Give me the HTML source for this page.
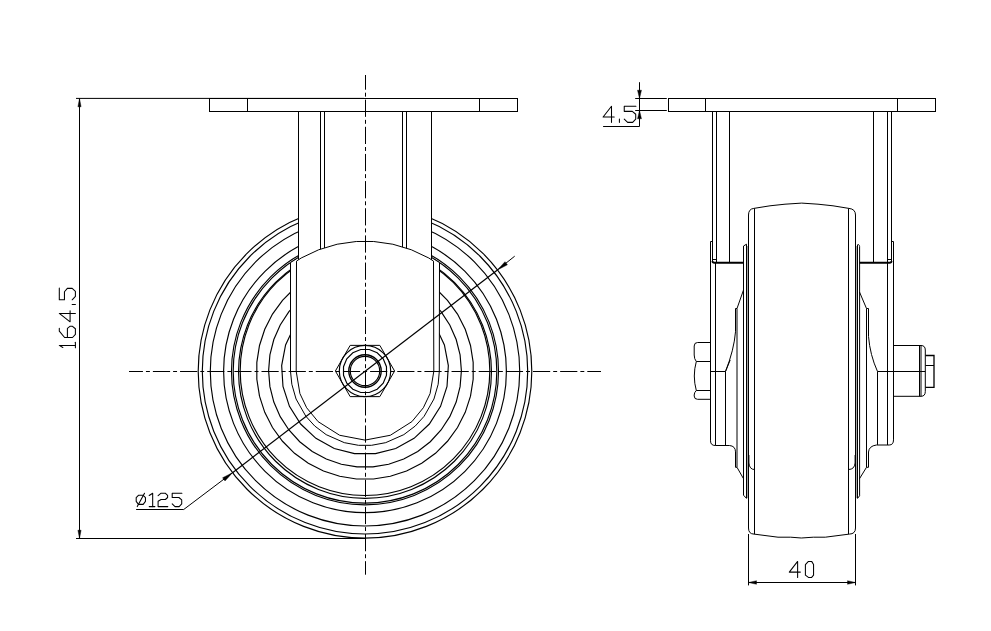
<!DOCTYPE html>
<html><head><meta charset="utf-8"><style>html,body{margin:0;padding:0;background:#fff;overflow:hidden}svg{display:block}</style></head>
<body>
<svg width="991" height="631" viewBox="0 0 991 631">
<style>svg *{fill:none;stroke:#000;stroke-width:1}svg .w{fill:#fff}svg .ar{fill:#000;stroke-width:0.4}svg .t{stroke-width:1.05;stroke-linejoin:round;stroke-linecap:round}svg .cl{stroke-dasharray:17.2 3 3.95 3}svg circle,svg .c{stroke-width:1.15}</style>
<rect x="0" y="0" width="991" height="631" style="fill:#fff;stroke:none"/>
<circle cx="365.00" cy="371.30" r="166.80" />
<circle cx="365.00" cy="371.30" r="162.70" />
<circle cx="365.00" cy="371.30" r="154.70" />
<circle cx="365.00" cy="371.30" r="141.40" />
<circle cx="365.00" cy="371.30" r="133.50" />
<circle cx="365.00" cy="371.30" r="131.80" />
<circle cx="365.00" cy="371.85" r="126.45" />
<circle cx="365.00" cy="370.70" r="124.80" />
<polygon points="356.49,478.97 339.67,476.30 323.48,471.04 308.31,463.31 294.53,453.30 282.50,441.27 272.49,427.49 264.76,412.32 259.50,396.13 256.83,379.31 256.83,362.29 259.50,345.47 264.76,329.28 272.49,314.11 282.50,300.33 294.53,288.30 308.31,278.29 323.48,270.56 339.67,265.30 356.49,262.63 373.51,262.63 390.33,265.30 406.52,270.56 421.69,278.29 435.47,288.30 447.50,300.33 457.51,314.11 465.24,329.28 470.50,345.47 473.17,362.29 473.17,379.31 470.50,396.13 465.24,412.32 457.51,427.49 447.50,441.27 435.47,453.30 421.69,463.31 406.52,471.04 390.33,476.30 373.51,478.97" class="c"/>
<polygon points="357.04,466.87 341.34,464.25 326.28,459.08 312.27,451.50 299.71,441.72 288.93,430.01 280.22,416.68 273.82,402.10 269.91,386.67 268.60,370.80 269.91,354.93 273.82,339.50 280.22,324.92 288.93,311.59 299.71,299.88 312.27,290.10 326.28,282.52 341.34,277.35 357.04,274.73 372.96,274.73 388.66,277.35 403.72,282.52 417.73,290.10 430.29,299.88 441.07,311.59 449.78,324.92 456.18,339.50 460.09,354.93 461.40,370.80 460.09,386.67 456.18,402.10 449.78,416.68 441.07,430.01 430.29,441.72 417.73,451.50 403.72,459.08 388.66,464.25 372.96,466.87" class="c"/>
<polygon points="354.53,453.64 334.26,448.44 315.92,438.35 300.66,424.02 289.45,406.35 282.98,386.45 281.66,365.56 285.59,345.00 294.50,326.06 307.84,309.93 324.77,297.63 344.23,289.92 365.00,287.30 385.77,289.92 405.23,297.63 422.16,309.93 435.50,326.06 444.41,345.00 448.34,365.56 447.02,386.45 440.55,406.35 429.34,424.02 414.08,438.35 395.74,448.44 375.47,453.64" class="c"/>
<path d="M290.50,262.58 L290.50,371.30 L291.84,384.27 L296.06,399.01 L305.90,416.32 L314.71,425.99 L326.18,434.65 L344.27,442.65 L358.52,445.32 L371.48,445.32 L385.73,442.65 L403.82,434.65 L415.29,425.99 L424.10,416.32 L433.94,399.01 L438.16,384.27 L439.30,371.30 L439.50,262.58 A131.8,131.8 0 0 0 290.50,262.58 Z" class="w"/>
<polygon points="298.50,111.50 298.50,259.80 301.18,258.00 318.66,249.77 337.17,244.22 356.30,241.49 373.70,241.49 392.83,244.22 411.34,249.77 428.82,258.00 431.50,259.80 431.50,111.50" class="w"/>
<polyline points="296.50,261.13 298.50,259.80" />
<polyline points="431.50,259.80 433.50,261.13" />
<polyline points="296.50,261.13 296.20,371.30 299.91,393.59 306.65,407.76 318.08,421.62 339.67,435.27 365.00,440.10 390.33,435.27 411.92,421.62 423.35,407.76 430.09,393.59 433.80,371.30 433.50,261.13" />
<line x1="320.50" y1="111.50" x2="320.50" y2="249.22" />
<line x1="324.50" y1="111.50" x2="324.50" y2="248.02" />
<line x1="402.50" y1="111.50" x2="402.50" y2="247.12" />
<line x1="406.50" y1="111.50" x2="406.50" y2="248.32" />
<rect x="209.5" y="98.5" width="308" height="13" class="w"/>
<line x1="247.50" y1="98.50" x2="247.50" y2="111.50" />
<line x1="479.50" y1="98.50" x2="479.50" y2="111.50" />
<polygon points="394.60,371.00 379.80,396.63 350.20,396.63 335.40,371.00 350.20,345.37 379.80,345.37" class="w"/>
<circle cx="365.00" cy="371.00" r="25.70" />
<polygon points="386.48,375.27 383.21,383.17 377.17,389.21 369.27,392.48 360.73,392.48 352.83,389.21 346.79,383.17 343.52,375.27 343.52,366.73 346.79,358.83 352.83,352.79 360.73,349.52 369.27,349.52 377.17,352.79 383.21,358.83 386.48,366.73" class="c"/>
<circle cx="365.00" cy="371.00" r="16.20" style="stroke-width:1.4"/>
<circle cx="365.00" cy="371.00" r="14.70" />
<line x1="129.00" y1="371.50" x2="601.00" y2="371.50" class="cl" stroke-dashoffset="3.25"/>
<line x1="365.50" y1="75.00" x2="365.50" y2="574.70" class="cl" stroke-dashoffset="2.5"/>
<line x1="76.00" y1="98.40" x2="364.00" y2="98.40" />
<line x1="76.00" y1="538.50" x2="365.00" y2="538.50" />
<line x1="79.50" y1="98.50" x2="79.50" y2="538.50" />
<polygon points="79.50,98.50 81.10,106.80 77.90,106.80" class="ar"/>
<polygon points="79.50,538.50 77.90,530.20 81.10,530.20" class="ar"/>
<polyline points="62.84,347.50 59.30,345.41 75.40,345.41" class="t"/>
<polyline points="75.40,347.71 75.40,342.20" class="t"/>
<polyline points="59.30,328.31 59.30,331.20 64.61,337.50 72.50,337.50 75.40,334.44 75.40,328.73 72.50,326.29 69.93,326.29 67.40,328.31 67.40,337.50" class="t"/>
<polyline points="75.40,313.43 59.30,313.43 70.09,321.80 70.09,310.69" class="t"/>
<polyline points="75.40,304.40 72.18,304.40" class="t"/>
<polyline points="59.30,288.14 59.30,299.80 64.45,299.80 64.45,291.75 67.35,288.37 72.18,288.37 75.40,291.43 75.40,296.42 72.18,299.80" class="t"/>
<line x1="136.10" y1="509.50" x2="183.70" y2="509.50" />
<line x1="183.70" y1="509.50" x2="232.54" y2="472.67" />
<line x1="232.54" y1="472.67" x2="497.46" y2="269.93" style="stroke-width:1.25"/>
<line x1="497.46" y1="269.93" x2="514.70" y2="256.20" />
<polygon points="232.54,472.67 225.02,480.94 222.59,477.77" class="ar"/>
<polygon points="497.46,269.93 504.98,261.66 507.41,264.83" class="ar"/>
<polyline points="138.41,495.34 143.17,495.34 145.45,497.62 145.45,501.37 143.17,504.39 138.41,504.39 136.20,501.37 136.20,497.62 138.41,495.34" class="t"/>
<polyline points="137.27,506.60 144.51,493.20" class="t"/>
<polyline points="149.20,495.48 152.68,493.20 152.68,506.60" class="t"/>
<polyline points="149.20,506.60 154.89,506.60" class="t"/>
<polyline points="158.10,495.68 161.10,493.20 165.20,493.20 167.60,495.48 167.60,497.49 165.40,499.50 161.10,499.50 158.10,501.29 158.10,506.60 167.80,506.60" class="t"/>
<polyline points="181.90,493.20 172.20,493.20 172.20,497.49 178.90,497.49 181.71,499.90 181.71,503.92 179.17,506.60 175.01,506.60 172.20,503.92" class="t"/>
<rect x="668.5" y="98.5" width="267" height="13" class="w"/>
<line x1="705.50" y1="98.50" x2="705.50" y2="111.50" />
<line x1="897.50" y1="98.50" x2="897.50" y2="111.50" />
<line x1="729.50" y1="111.50" x2="729.50" y2="262.50" />
<line x1="873.50" y1="111.50" x2="873.50" y2="262.50" />
<path d="M712.5,261 Q712.5,262.8 714.5,262.8 L743.5,262.8" style="stroke-width:1.9"/>
<line x1="712.50" y1="111.50" x2="712.50" y2="261.50" />
<line x1="716.50" y1="111.50" x2="716.50" y2="263.00" />
<line x1="712.50" y1="259.50" x2="716.50" y2="259.50" />
<path d="M891.5,261 Q891.5,262.8 889.5,262.8 L859.5,262.8" style="stroke-width:1.9"/>
<line x1="891.50" y1="111.50" x2="891.50" y2="261.50" />
<line x1="887.50" y1="111.50" x2="887.50" y2="263.00" />
<line x1="887.50" y1="259.50" x2="891.50" y2="259.50" />
<line x1="635.20" y1="98.50" x2="666.80" y2="98.50" />
<line x1="635.20" y1="110.50" x2="666.80" y2="110.50" />
<line x1="639.50" y1="82.20" x2="639.50" y2="126.50" />
<polygon points="639.50,98.50 637.50,90.20 641.50,90.20" class="ar"/>
<polygon points="639.50,110.50 641.50,118.80 637.50,118.80" class="ar"/>
<line x1="603.10" y1="126.50" x2="639.50" y2="126.50" />
<polyline points="611.50,122.35 611.50,106.20 603.10,117.02 614.24,117.02" class="t"/>
<polyline points="619.40,122.35 619.40,119.12" class="t"/>
<polyline points="635.94,106.20 624.25,106.20 624.25,111.37 632.33,111.37 635.72,114.27 635.72,119.12 632.65,122.35 627.64,122.35 624.25,119.12" class="t"/>
<path d="M753.8,208.4 L770,205.8 L785,204.2 L801.7,203.1 L818,204.2 L833,205.8 L848.9,208.4 Q855.5,209 855.5,215 L855.5,528 Q855.5,534 849.3,534.1 L825.3,537.2 L813.3,537.2 L801.3,538 L790.7,537.2 L778,537.2 L754,534.1 Q748.5,534 748.5,528 L748.5,215 Q748.5,209 753.8,208.4 Z" />
<line x1="754.50" y1="208.40" x2="754.50" y2="534.10" />
<line x1="848.50" y1="208.40" x2="848.50" y2="534.10" />
<path d="M748.9,455 L748.9,463 Q749.5,469.5 754.5,469.5" />
<path d="M855.1,455 L855.1,463 Q854.5,469.5 848.5,469.5" />
<line x1="747.50" y1="246.00" x2="747.50" y2="498.00" style="stroke-opacity:0.35"/>
<line x1="856.50" y1="246.00" x2="856.50" y2="498.00" style="stroke-opacity:0.35"/>
<path d="M743.5,246 L746.5,244.2 L746.5,498.4 L743.5,495.2 Z" />
<path d="M857.5,498.4 L857.5,245 Q857.5,244.3 858.5,244.6 Q859.6,245.2 859.6,246.5 L859.6,495.8 Z" />
<path d="M743.5,290 L737,308.5 L735.5,308.5 L735.5,331.8 Q734,350 725.5,371.5 L725.5,445.6" />
<path d="M737,308.5 L737,467.3 L743.5,478.7" />
<path d="M735.5,451.9 L735.5,467.3 L737,467.3" />
<path d="M859.5,292 L866.5,308.5 L868.5,308.5 L868.5,336.4 Q870,355 877.5,371.5 L877.5,444.9" />
<path d="M866.5,308.5 L866.5,467.3 L859.5,478.7" />
<path d="M868.5,452 L868.5,467.3 L866.5,467.3" />
<path d="M712.5,241.5 L710.5,241.5 L710.5,440.8 Q710.5,445.5 715.3,445.5 L729.4,445.5 Q735.5,446 735.5,451.9" />
<line x1="715.50" y1="263.00" x2="715.50" y2="445.50" />
<line x1="710.50" y1="371.50" x2="725.50" y2="371.50" />
<line x1="725.50" y1="371.50" x2="730.20" y2="360.00" />
<path d="M891.5,241.5 L893.5,241.5 L893.5,439.9 Q893.5,445 889.2,445 L876.4,445 Q869,446 868.5,452" />
<line x1="887.50" y1="263.00" x2="887.50" y2="445.00" />
<path d="M710.5,342.5 L697.5,342.5 Q694.2,342.5 694.2,346 L694.2,355 Q694.2,359 696.3,361.5 Q692.3,376 696.3,390.5 Q694.2,392.5 694.2,395 L694.2,396 Q694.2,399.3 697.5,399.3 L710.5,399.3" />
<line x1="696.30" y1="361.50" x2="710.50" y2="361.50" />
<line x1="696.30" y1="390.50" x2="710.50" y2="390.50" />
<path d="M893.5,345.5 L921,345.5 Q925.3,345.5 925.3,350 L925.3,391.5 Q925.3,396.3 921,396.3 L893.5,396.3" />
<line x1="919.50" y1="345.50" x2="919.50" y2="396.30" />
<line x1="921.00" y1="345.50" x2="921.00" y2="396.30" />
<path d="M925.5,355.5 L934,355.5 L934,387.3 L925.5,387.3" style="stroke-width:1.3"/>
<line x1="925.50" y1="365.50" x2="934.00" y2="365.50" />
<line x1="877.50" y1="371.50" x2="925.30" y2="371.50" />
<line x1="748.50" y1="534.00" x2="748.50" y2="585.40" />
<line x1="855.50" y1="534.00" x2="855.50" y2="585.40" />
<line x1="748.50" y1="582.50" x2="855.50" y2="582.50" />
<polygon points="748.50,582.50 756.50,580.70 756.50,584.30" class="ar"/>
<polygon points="855.50,582.50 847.50,584.30 847.50,580.70" class="ar"/>
<polyline points="797.62,577.40 797.62,561.40 789.30,572.12 800.34,572.12" class="t"/>
<polyline points="805.40,564.60 808.44,561.40 811.64,561.40 813.56,564.50 813.56,575.16 811.64,577.40 808.44,577.40 805.40,575.16 805.40,564.60" class="t"/>
</svg>
</body></html>
